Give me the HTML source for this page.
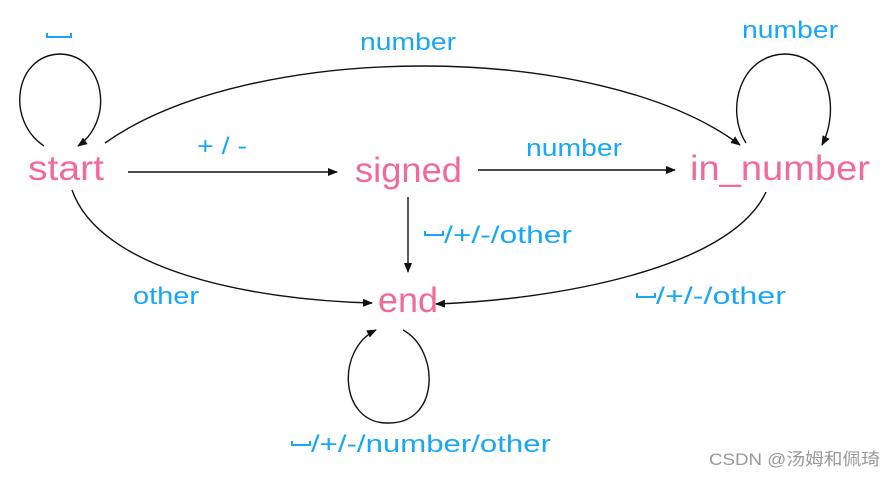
<!DOCTYPE html>
<html><head><meta charset="utf-8"><style>
html,body{margin:0;padding:0;background:#fff}
svg{display:block}
.n{font-family:"Liberation Sans",sans-serif;fill:#f06a9c;font-size:35px}
.l{font-family:"Liberation Sans",sans-serif;fill:#1aa7f5;font-size:24px}
</style></head><body>
<svg width="896" height="477" viewBox="0 0 896 477" xmlns="http://www.w3.org/2000/svg">
<defs><marker id="a" markerWidth="10" markerHeight="8" refX="9" refY="4" orient="auto" markerUnits="userSpaceOnUse"><path d="M0,0 L10,4 L0,8 Z" fill="#111"/></marker></defs>
<g fill="none" stroke="#111" stroke-width="1.4">
<path d="M44,146 C5,120 15,55 60,54 C105,55 115,120 78,146" marker-end="url(#a)"/>
<path d="M105,143 C250,40 600,40 740,145" marker-end="url(#a)"/>
<path d="M128,172 L337,172" marker-end="url(#a)"/>
<path d="M478,170 L675,170" marker-end="url(#a)"/>
<path d="M408,197 L408,272" marker-end="url(#a)"/>
<path d="M72,190 C100,270 250,300 372,303" marker-end="url(#a)"/>
<path d="M766,192 C730,270 550,300 436,304" marker-end="url(#a)"/>
<path d="M746,143 C725,110 740,55 785,54 C830,55 840,110 822,145" marker-end="url(#a)"/>
<path d="M403,330 C440,350 440,424 388,423 C340,424 335,350 376,330" marker-end="url(#a)"/>
</g>
<text class="n" x="28" y="180" textLength="76" lengthAdjust="spacingAndGlyphs">start</text>
<text class="n" x="355" y="182" textLength="107" lengthAdjust="spacingAndGlyphs">signed</text>
<text class="n" x="690" y="180" textLength="180" lengthAdjust="spacingAndGlyphs">in_number</text>
<text class="n" x="378" y="312" textLength="60" lengthAdjust="spacingAndGlyphs">end</text>
<g stroke="#1aa7f5" stroke-width="2" fill="none">
<path d="M47,33 V37 H71 V33"/>
<path d="M425,231 V235 H443 V231"/>
<path d="M637,293 V297 H655 V293"/>
<path d="M292,441 V445 H310 V441"/>
</g>
<text class="l" x="360" y="50" textLength="96" lengthAdjust="spacingAndGlyphs">number</text>
<text class="l" x="742" y="38" textLength="96" lengthAdjust="spacingAndGlyphs">number</text>
<text class="l" x="197" y="154" textLength="50" lengthAdjust="spacingAndGlyphs">+ / -</text>
<text class="l" x="526" y="156" textLength="96" lengthAdjust="spacingAndGlyphs">number</text>
<text class="l" x="444" y="243" textLength="128" lengthAdjust="spacingAndGlyphs">/+/-/other</text>
<text class="l" x="133" y="304" textLength="66" lengthAdjust="spacingAndGlyphs">other</text>
<text class="l" x="656" y="304" textLength="130" lengthAdjust="spacingAndGlyphs">/+/-/other</text>
<text class="l" x="311" y="452" textLength="240" lengthAdjust="spacingAndGlyphs">/+/-/number/other</text>
<text x="709" y="465" font-family="Liberation Sans,Noto Sans CJK SC,sans-serif" font-size="17" fill="#999" textLength="171" lengthAdjust="spacingAndGlyphs">CSDN @汤姆和佩琦</text>
</svg>
</body></html>
